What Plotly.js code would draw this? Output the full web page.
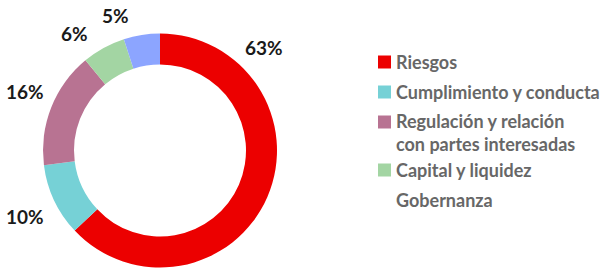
<!DOCTYPE html>
<html>
<head>
<meta charset="utf-8">
<script src="https://cdn.plot.ly/plotly-3.0.1.min.js"></script>
<style>
html,body{margin:0;padding:0;background:#fff;}
#chart{width:600px;height:269px;}
</style>
</head>
<body>
<div id="chart"></div>
<script>
// ---- data ----
var categories = ["Riesgos", "Cumplimiento y conducta", "Regulación y relación<br>con partes interesadas", "Capital y liquidez", "Gobernanza"];
var values = [63, 10, 16, 6, 5];
var colors = ["#EC0000", "#76D1D6", "#B87392", "#A3D5A3", "#8CA5FF"];
var showSwatch = [true, true, true, true, false];

// ---- layout / style ----
var W = 600, H = 269;
var cx = 160, cy = 150.5, R = 117;
var labelPx = [[264, 47], [25, 216], [25, 91], [74, 34], [115, 16]];
var legendRowsPx = [62, 92, 132, 170, 200];
var swatchX0 = 378, swatchSize = 13, textX = 394;
var labelFont = {family: "Lato, sans-serif", size: 19, color: "#1a1a1a", weight: 700};
var legendFont = {family: "Lato, sans-serif", size: 18, color: "#676767", weight: 700};

function px2x(x){ return x / W; }
function px2y(y){ return 1 - y / H; }

var trace = {
  type: "pie",
  values: values,
  labels: categories,
  marker: {colors: colors, line: {width: 0}},
  hole: 0.735,
  sort: false,
  direction: "clockwise",
  rotation: 0,
  textinfo: "none",
  hoverinfo: "label+value",
  showlegend: false,
  domain: {x: [px2x(cx - R), px2x(cx + R)], y: [px2y(cy + R), px2y(cy - R)]}
};

var annotations = [];
var shapes = [];
values.forEach(function(v, i){
  annotations.push({
    xref: "paper", yref: "paper",
    x: px2x(labelPx[i][0]), y: px2y(labelPx[i][1]),
    xanchor: "center", yanchor: "middle",
    text: "<b>" + v + "%</b>",
    showarrow: false,
    font: labelFont
  });
  annotations.push({
    xref: "paper", yref: "paper",
    x: px2x(textX), y: px2y(legendRowsPx[i]),
    xanchor: "left", yanchor: "middle", align: "left",
    text: "<b>" + categories[i] + "</b>",
    showarrow: false,
    font: legendFont
  });
  if (showSwatch[i]) {
    var firstLine = categories[i].indexOf("<br>") >= 0 ? legendRowsPx[i] - 10 : legendRowsPx[i];
    shapes.push({
      type: "rect", xref: "paper", yref: "paper",
      x0: px2x(swatchX0), x1: px2x(swatchX0 + swatchSize),
      y0: px2y(firstLine + swatchSize / 2), y1: px2y(firstLine - swatchSize / 2),
      fillcolor: colors[i], line: {width: 0}
    });
  }
});

var layout = {
  width: W, height: H,
  margin: {l: 0, r: 0, t: 0, b: 0},
  paper_bgcolor: "#ffffff",
  plot_bgcolor: "#ffffff",
  showlegend: false,
  annotations: annotations,
  shapes: shapes
};

Plotly.newPlot("chart", [trace], layout, {displayModeBar: false, staticPlot: true});
</script>
</body>
</html>
